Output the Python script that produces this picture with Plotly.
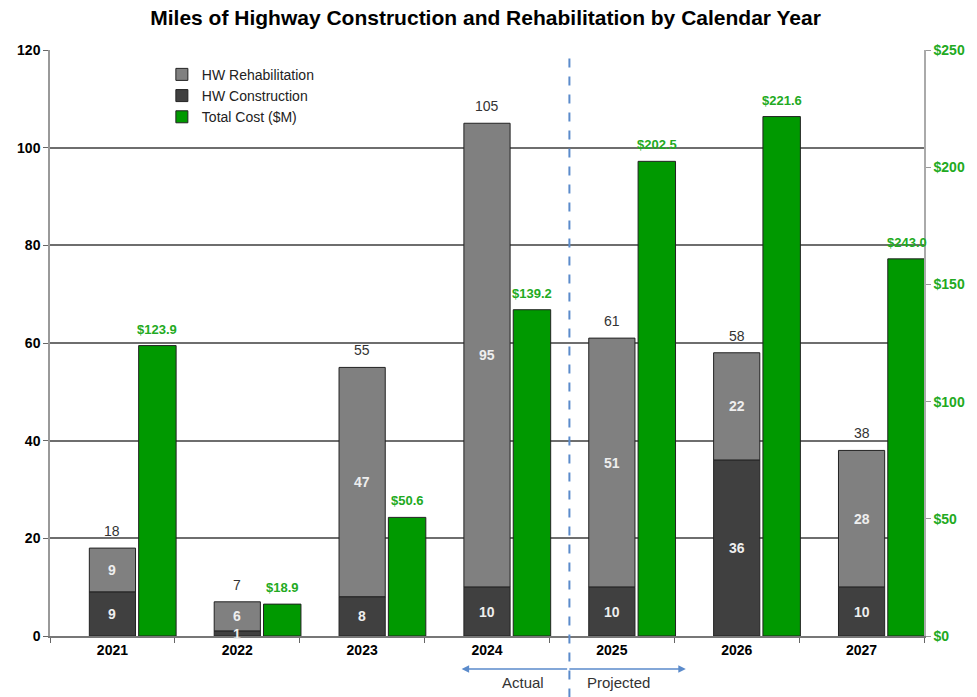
import plotly.graph_objects as go

years = ["2021", "2022", "2023", "2024", "2025", "2026", "2027"]
construction = [9, 1, 8, 10, 10, 36, 10]
rehabilitation = [9, 6, 47, 95, 51, 22, 28]
totals = [18, 7, 55, 105, 61, 58, 38]
cost_heights = [123.9, 13.6, 50.6, 139.2, 202.5, 221.6, 160.9]
cost_labels = ["$123.9", "$18.9", "$50.6", "$139.2", "$202.5", "$221.6", "$243.0"]

FONT = "Arial, Liberation Sans, sans-serif"
GRAY_DARK = "#404040"
GRAY_MID = "#808080"
GREEN = "#009900"
GREEN_TXT = "#22aa22"
BLUE = "#5b8bcb"

fig = go.Figure()

fig.add_trace(go.Bar(
    name="HW Rehabilitation", x=years, y=rehabilitation, base=construction,
    marker=dict(color=GRAY_MID, line=dict(color="#222222", width=1)),
    width=0.37, offset=-0.185, yaxis="y",
))
fig.add_trace(go.Bar(
    name="HW Construction", x=years, y=construction,
    marker=dict(color=GRAY_DARK, line=dict(color="#222222", width=1)),
    width=0.37, offset=-0.185, yaxis="y",
))
fig.add_trace(go.Bar(
    name="Total Cost ($M)", x=years, y=cost_heights,
    marker=dict(color=GREEN, line=dict(color="#222222", width=1)),
    width=0.30, offset=0.21, yaxis="y2",
))

annotations = []
for i, yr in enumerate(years):
    annotations.append(dict(x=i, y=totals[i], xref="x", yref="y", text=str(totals[i]),
                            showarrow=False, yanchor="bottom", yshift=7,
                            font=dict(family=FONT, size=14, color="#333333")))
    annotations.append(dict(x=i, y=construction[i] / 2, xref="x", yref="y",
                            text="<b>%d</b>" % construction[i], showarrow=False,
                            font=dict(family=FONT, size=14, color="#eeeeee")))
    annotations.append(dict(x=i, y=construction[i] + rehabilitation[i] / 2, xref="x", yref="y",
                            text="<b>%d</b>" % rehabilitation[i], showarrow=False,
                            font=dict(family=FONT, size=14, color="#eeeeee")))
    annotations.append(dict(x=i + 0.36, y=cost_heights[i], xref="x", yref="y2",
                            text="<b>%s</b>" % cost_labels[i], showarrow=False,
                            yanchor="bottom", yshift=7,
                            font=dict(family=FONT, size=13, color=GREEN_TXT)))

annotations += [
    dict(x=0.471, y=-0.0563, xref="paper", yref="paper", text="", showarrow=True,
         ax=107, ay=0, arrowhead=2, arrowsize=1, arrowwidth=1.5, arrowcolor=BLUE),
    dict(x=0.7275, y=-0.0563, xref="paper", yref="paper", text="", showarrow=True,
         ax=-118, ay=0, arrowhead=2, arrowsize=1, arrowwidth=1.5, arrowcolor=BLUE),
    dict(x=0.5416, y=-0.0785, xref="paper", yref="paper", text="Actual", showarrow=False,
         yanchor="middle", font=dict(family=FONT, size=15, color="#333333")),
    dict(x=0.65, y=-0.0785, xref="paper", yref="paper", text="Projected", showarrow=False,
         yanchor="middle", font=dict(family=FONT, size=15, color="#333333")),
]

fig.update_layout(
    width=977, height=697,
    margin=dict(l=50, r=50, t=50, b=61),
    paper_bgcolor="white", plot_bgcolor="white",
    barmode="overlay",
    title=dict(text="<b>Miles of Highway Construction and Rehabilitation by Calendar Year</b>",
               x=0.497, xanchor="center", y=1 - 18 / 697, yanchor="middle", yref="container",
               font=dict(family=FONT, size=21, color="#000000")),
    font=dict(family=FONT),
    xaxis=dict(type="category", range=[-0.5, 6.5], tickson="boundaries", ticks="outside",
               ticklen=5, tickcolor="#666666", showline=True, linecolor="#777777", linewidth=1.5,
               showgrid=False,
               tickfont=dict(family=FONT, size=14, color="#000000", weight="bold")),
    yaxis=dict(range=[0, 120], dtick=20, ticks="outside", ticklen=5, tickcolor="#666666",
               showline=True, linecolor="#999999", linewidth=1.5,
               showgrid=True, gridcolor="#6e6e6e", gridwidth=1.5, zeroline=False,
               tickfont=dict(family=FONT, size=14, color="#000000", weight="bold")),
    yaxis2=dict(range=[0, 250], dtick=50, overlaying="y", side="right", tickprefix="$",
                ticks="outside", ticklen=5, tickcolor="#999999",
                showline=True, linecolor="#aaaaaa", linewidth=1.5, showgrid=False, zeroline=False,
                tickfont=dict(family=FONT, size=14, color=GREEN_TXT, weight="bold")),
    legend=dict(x=0.128, y=0.985, xanchor="left", yanchor="top", bgcolor="rgba(0,0,0,0)",
                traceorder="normal", tracegroupgap=0,
                font=dict(family=FONT, size=14, color="#222222")),
    annotations=annotations,
    shapes=[dict(type="line", xref="x", yref="paper", x0=3.66, x1=3.66, y0=-0.105, y1=0.986,
                 line=dict(color=BLUE, width=2, dash="dash"))],
)

fig.write_html("out.html", config={"displayModeBar": False},
               post_script="document.body.style.margin='0';document.body.style.overflow='hidden';")
